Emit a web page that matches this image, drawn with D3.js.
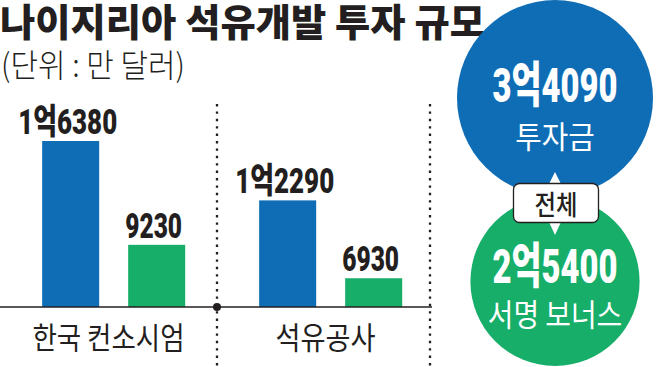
<!DOCTYPE html>
<html>
<head>
<meta charset="utf-8">
<script src="https://cdn.jsdelivr.net/npm/d3@7"></script>
<style>
  body { margin: 0; background: #fff; }
  text { font-family: "Noto Sans CJK KR", "Noto Sans", sans-serif; }
</style>
</head>
<body>
<div id="graph"></div>
<script>
// data
var groups = ["한국 컨소시엄", "석유공사"];
var series = ["investment", "bonus"];
var investValues = [16380, 12290];
var bonusValues = [9230, 6930];
var totalValues = [34090, 25400];
var totalNames = ["투자금", "서명 보너스"];
var title = "나이지리아 석유개발 투자 규모";
var unit = "(단위 : 만 달러)";
var badge = "전체";

var width = 657, height = 367;
var blue = "#0f6db6", green = "#17ae69", ink = "#231f20";

// 1억6380 style label
function fmt(v) {
  return v >= 10000 ? Math.floor(v / 10000) + "억" + (v % 10000) : String(v);
}
// rough width for condensed text
function labelWidth(s, digitW, hangulW) {
  var w = 0;
  for (var i = 0; i < s.length; i++) w += /[0-9]/.test(s[i]) ? digitW : (s[i] === " " ? 2 : hangulW);
  return w;
}

var svg = d3.select("#graph").append("svg")
  .attr("width", width)
  .attr("height", height);

// title
svg.append("text")
  .attr("x", 0).attr("y", 36)
  .attr("fill", ink)
  .style("font-size", "38px").style("font-weight", 900)
  .attr("textLength", 485).attr("lengthAdjust", "spacingAndGlyphs")
  .text(title);

svg.append("text")
  .attr("x", 1).attr("y", 77)
  .attr("fill", ink)
  .style("font-size", "32px").style("font-weight", 300)
  .attr("textLength", 184).attr("lengthAdjust", "spacingAndGlyphs")
  .text(unit);

// scales
var baseY = 307;
var x0 = d3.scaleBand().domain(groups).range([0, 434]);
var x1 = d3.scaleBand().domain(series).range([0, 217])
  .paddingInner(0.337).paddingOuter(0.43).align(0.57);
var yScale = d3.scaleLinear().domain([4950, 16380]).range([baseY, 141]);

var rows = groups.map(function(g, i) {
  return { group: g, values: [
    { key: "investment", value: investValues[i], color: blue },
    { key: "bonus", value: bonusValues[i], color: green }
  ]};
});

// dotted dividers
[x0("석유공사"), 430].forEach(function(xx) {
  svg.append("line")
    .attr("x1", xx).attr("x2", xx)
    .attr("y1", 104).attr("y2", height)
    .attr("stroke", ink)
    .attr("stroke-width", 2.3)
    .attr("stroke-dasharray", "2.4,5");
});

var g = svg.selectAll(".grp")
  .data(rows)
  .enter().append("g")
  .attr("transform", function(d) { return "translate(" + x0(d.group) + ",0)"; });

g.selectAll("rect")
  .data(function(d) { return d.values; })
  .enter().append("rect")
  .attr("x", function(d) { return x1(d.key); })
  .attr("y", function(d) { return yScale(d.value); })
  .attr("width", x1.bandwidth())
  .attr("height", function(d) { return baseY - yScale(d.value); })
  .attr("fill", function(d) { return d.color; });

g.selectAll(".val")
  .data(function(d) { return d.values; })
  .enter().append("text")
  .attr("x", function(d) { return x1(d.key) + x1.bandwidth() / 2 - 3; })
  .attr("y", function(d) { return yScale(d.value) - 7; })
  .attr("text-anchor", "middle")
  .attr("fill", ink)
  .style("font-family", "Roboto, 'Noto Sans CJK KR', sans-serif")
  .style("font-size", "35px").style("font-weight", 900)
  .attr("textLength", function(d) { return labelWidth(fmt(d.value), 14.2, 28); })
  .attr("lengthAdjust", "spacingAndGlyphs")
  .text(function(d) { return fmt(d.value); });

g.append("text")
  .attr("x", x0.bandwidth() / 2)
  .attr("y", 349)
  .attr("text-anchor", "middle")
  .attr("fill", ink)
  .style("font-size", "31px").style("font-weight", 400)
  .attr("textLength", function(d) { return labelWidth(d.group, 0, 25); })
  .attr("lengthAdjust", "spacingAndGlyphs")
  .text(function(d) { return d.group; });

// baseline
svg.append("line")
  .attr("x1", 0).attr("x2", 432)
  .attr("y1", baseY).attr("y2", baseY)
  .attr("stroke", ink).attr("stroke-width", 1.6);

svg.append("circle")
  .attr("cx", x0("석유공사")).attr("cy", baseY).attr("r", 4)
  .attr("fill", ink);

// total circles
var rScale = d3.scaleSqrt().domain([0, totalValues[0]]).range([0, 98]);
var cx = 555;
var circles = [
  { value: totalValues[0], name: totalNames[0], color: blue, cy: rScale(totalValues[0]) },
  { value: totalValues[1], name: totalNames[1], color: green, cy: 366 - rScale(totalValues[1]) }
];

svg.selectAll(".tot")
  .data(circles)
  .enter().append("circle")
  .attr("cx", cx)
  .attr("cy", function(d) { return d.cy; })
  .attr("r", function(d) { return rScale(d.value); })
  .attr("fill", function(d) { return d.color; });

var numY = [102, 283], nameY = [148, 326];
svg.selectAll(".totval")
  .data(circles)
  .enter().append("text")
  .attr("x", cx).attr("y", function(d, i) { return numY[i]; })
  .attr("text-anchor", "middle")
  .attr("fill", "#fff")
  .style("font-family", "Roboto, 'Noto Sans CJK KR', sans-serif")
  .style("font-size", "49px").style("font-weight", 900)
  .attr("textLength", function(d) { return labelWidth(fmt(d.value), 17.6, 37); })
  .attr("lengthAdjust", "spacingAndGlyphs")
  .text(function(d) { return fmt(d.value); });

svg.selectAll(".totname")
  .data(circles)
  .enter().append("text")
  .attr("x", cx).attr("y", function(d, i) { return nameY[i]; })
  .attr("text-anchor", "middle")
  .attr("fill", "#fff")
  .style("font-size", "31px").style("font-weight", 400)
  .attr("textLength", function(d) { return labelWidth(d.name, 0, 26.5); })
  .attr("lengthAdjust", "spacingAndGlyphs")
  .text(function(d) { return d.name; });

// badge with arrows
svg.append("path")
  .attr("d", "M" + cx + ",172 L" + (cx + 6) + ",184 L" + (cx - 6) + ",184 Z")
  .attr("fill", "#fff");
svg.append("path")
  .attr("d", "M" + cx + ",235 L" + (cx + 6) + ",222 L" + (cx - 6) + ",222 Z")
  .attr("fill", "#fff");
svg.append("rect")
  .attr("x", 513.5).attr("y", 183.5)
  .attr("width", 85).attr("height", 39)
  .attr("rx", 6)
  .attr("fill", "#fff")
  .attr("stroke", ink).attr("stroke-width", 1.3);
svg.append("text")
  .attr("x", 556).attr("y", 215)
  .attr("text-anchor", "middle")
  .attr("fill", ink)
  .style("font-size", "27px").style("font-weight", 500)
  .attr("textLength", 43).attr("lengthAdjust", "spacingAndGlyphs")
  .text(badge);
</script>
</body>
</html>
